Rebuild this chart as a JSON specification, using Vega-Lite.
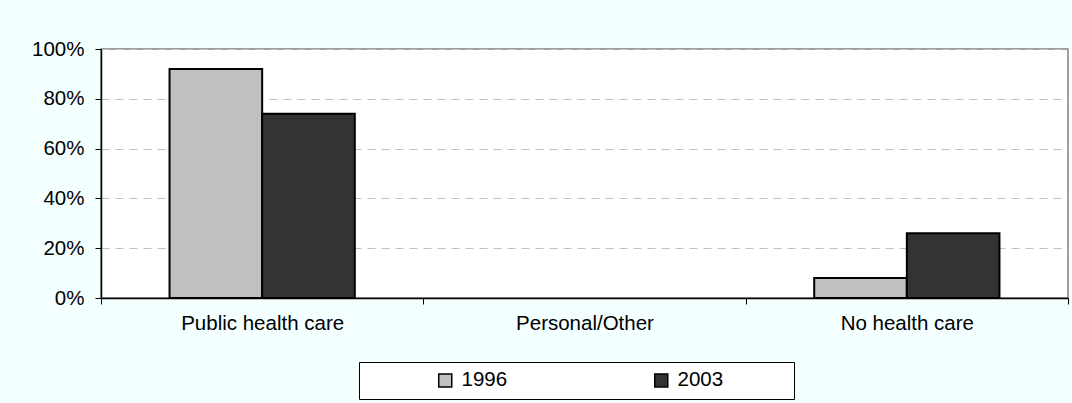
{
  "$schema": "https://vega.github.io/schema/vega-lite/v6.json",
  "width": 967,
  "height": 249,
  "autosize": {"type": "none"},
  "padding": {"left": 101, "top": 49, "right": 4, "bottom": 105},
  "background": "#F4FFFF",
  "config": {
    "font": "Liberation Sans",
    "view": {"fill": "white", "stroke": "#808080", "strokeWidth": 1.5}
  },
  "data": {
    "values": [
      {"category": "Public health care", "year": "1996", "share": 0.92},
      {"category": "Public health care", "year": "2003", "share": 0.74},
      {"category": "Personal/Other", "year": "1996", "share": 0},
      {"category": "Personal/Other", "year": "2003", "share": 0},
      {"category": "No health care", "year": "1996", "share": 0.08},
      {"category": "No health care", "year": "2003", "share": 0.26}
    ]
  },
  "mark": {"type": "bar", "stroke": "black", "strokeWidth": 2},
  "encoding": {
    "x": {
      "field": "category",
      "type": "nominal",
      "sort": ["Public health care", "Personal/Other", "No health care"],
      "scale": {"paddingInner": 0, "paddingOuter": 0},
      "axis": {
        "title": null,
        "labelAngle": 0,
        "tickBand": "extent",
        "domainColor": "black",
        "domainWidth": 1.5,
        "tickColor": "black",
        "tickSize": 6,
        "labelFontSize": 20.5,
        "labelColor": "black",
        "labelPadding": 9,
        "labelLimit": 300,
        "grid": false
      }
    },
    "xOffset": {
      "field": "year",
      "type": "nominal",
      "scale": {"paddingInner": 0, "paddingOuter": 0.74}
    },
    "y": {
      "field": "share",
      "type": "quantitative",
      "scale": {"domain": [0, 1]},
      "axis": {
        "title": null,
        "format": "%",
        "values": [0, 0.2, 0.4, 0.6, 0.8, 1],
        "grid": true,
        "gridColor": "#C0C0C0",
        "gridDash": [8, 6],
        "domainColor": "black",
        "domainWidth": 1.5,
        "tickColor": "black",
        "tickSize": 6,
        "labelFontSize": 20.5,
        "labelColor": "black",
        "labelPadding": 11
      }
    },
    "strokeOpacity": {
      "condition": {"test": "datum.share == 0", "value": 0},
      "value": 1
    },
    "color": {
      "field": "year",
      "type": "nominal",
      "scale": {"domain": ["1996", "2003"], "range": ["#C0C0C0", "#333333"]},
      "legend": {
        "title": null,
        "orient": "none",
        "legendX": 258,
        "legendY": 313,
        "direction": "horizontal",
        "columns": 2,
        "symbolType": "square",
        "symbolSize": 169,
        "symbolStrokeColor": "black",
        "symbolStrokeWidth": 1.5,
        "symbolOffset": 68,
        "labelOffset": 6,
        "labelFontSize": 20.5,
        "labelColor": "black",
        "labelExpr": "datum.label + '\u00a0\u00a0\u00a0\u00a0\u00a0\u00a0\u00a0\u00a0\u00a0\u00a0\u00a0\u200b'",
        "columnPadding": 13,
        "padding": 8,
        "fillColor": "white",
        "strokeColor": "black"
      }
    }
  }
}
